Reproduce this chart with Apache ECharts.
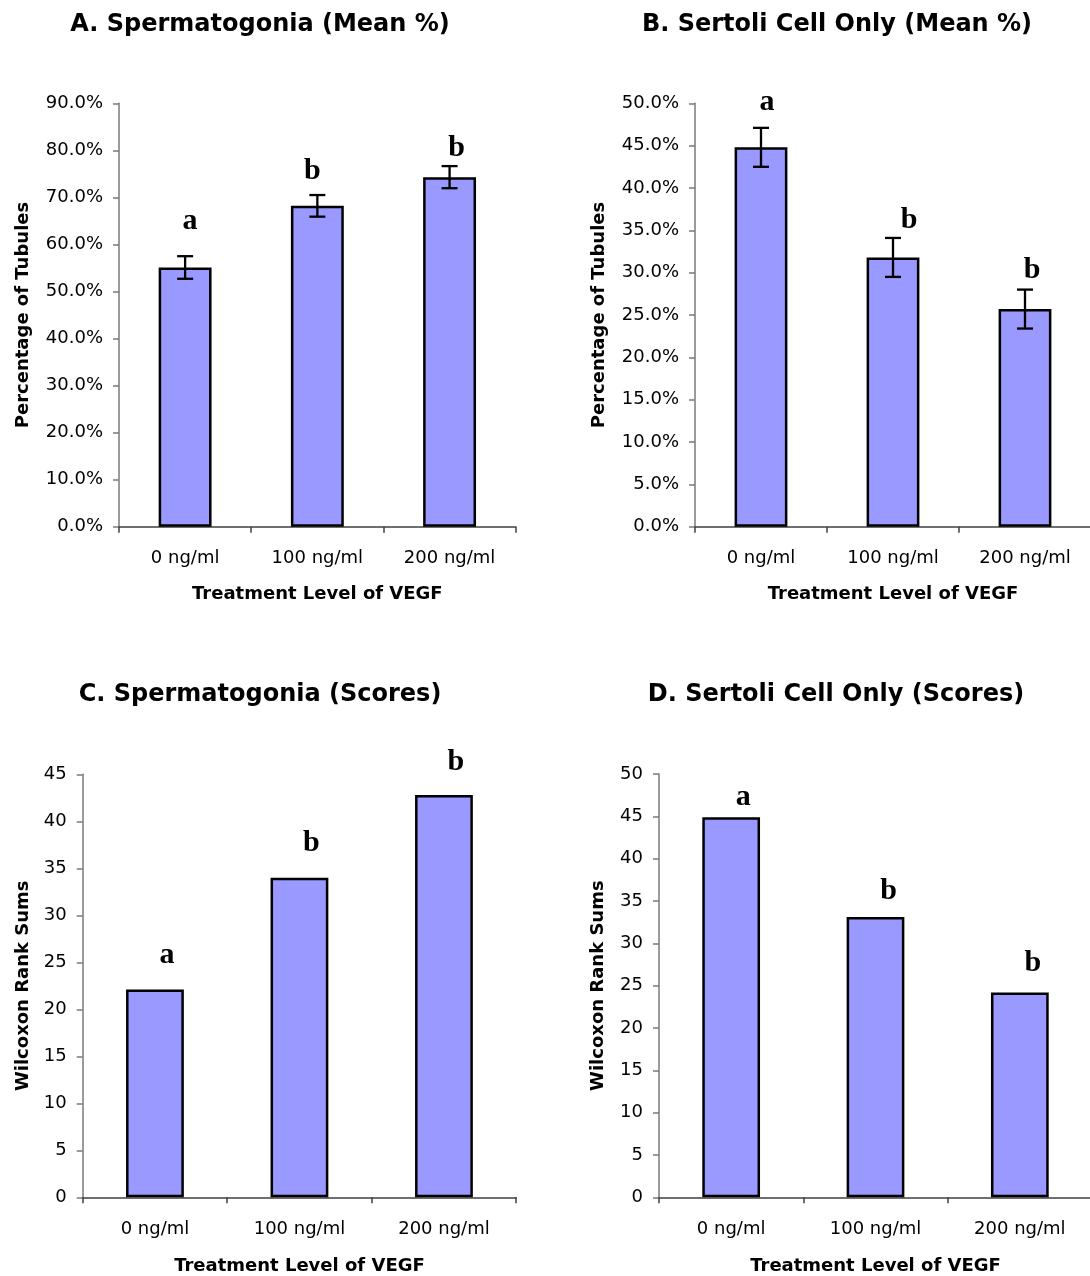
<!DOCTYPE html>
<html>
<head>
<meta charset="utf-8">
<script src="https://cdn.jsdelivr.net/npm/echarts@6/dist/echarts.min.js"></script>
<style>
html,body{margin:0;padding:0;background:#fff;}
#chart{width:1090px;height:1276px;}
</style>
</head>
<body>
<div id="chart"></div>
<script>
// ---- data ----
const categories = ['0 ng/ml', '100 ng/ml', '200 ng/ml'];

const spermMean = [55.1, 68.2, 74.3];        // A: mean %
const spermMeanErr = [2.4, 2.3, 2.35];
const spermMeanLetters = ['a', 'b', 'b'];
const spermMeanLetterPos = [64.9, 75.6, 80.4];

const sertoliMean = [44.8, 31.8, 25.7];      // B: mean %
const sertoliMeanErr = [2.3, 2.3, 2.3];
const sertoliMeanLetters = ['a', 'b', 'b'];
const sertoliMeanLetterPos = [50.1, 36.2, 30.3];

const spermScores = [22.1, 34.0, 42.8];      // C: Wilcoxon rank sums
const spermScoreLetters = ['a', 'b', 'b'];
const spermScoreLetterPos = [25.7, 37.7, 46.3];

const sertoliScores = [44.9, 33.1, 24.2];    // D: Wilcoxon rank sums
const sertoliScoreLetters = ['a', 'b', 'b'];
const sertoliScoreLetterPos = [47.3, 36.2, 27.7];

const panelTitles = [
  'A. Spermatogonia (Mean %)',
  'B. Sertoli Cell Only (Mean %)',
  'C. Spermatogonia (Scores)',
  'D. Sertoli Cell Only (Scores)'
];
const xName = 'Treatment Level of VEGF';
const yNamePct = 'Percentage of Tubules';
const yNameScore = 'Wilcoxon Rank Sums';

// ---- styling ----
const SANS = 'DejaVu Sans';
const SERIF = 'Liberation Serif';
const BAR_COLOR = '#9999FF';
// horizontal nudges (px) of the significance letters, per panel
const letterNudge = [[5, -5, 7], [6, 16, 7], [12, 12, 12], [12, 13, 13]];

const chart = echarts.init(document.getElementById('chart'), null, {renderer: 'canvas'});

const grids = [
  {left: 119, top: 103.3, width: 396.7, height: 423.4},
  {left: 695, top: 103.3, width: 396, height: 423.4},
  {left: 82.7, top: 774.3, width: 433.5, height: 423},
  {left: 659, top: 774, width: 433, height: 423.3}
].map(g => Object.assign({outerBoundsMode: 'none', containLabel: false}, g));

function xAxis(gi, gap) {
  return {
    type: 'category', gridIndex: gi, data: categories,
    boundaryGap: true,
    axisLine: {show: true, lineStyle: {color: '#404040', width: 1.5}},
    axisTick: {show: true, inside: false, length: 6, alignWithLabel: false, lineStyle: {color: '#404040', width: 1.5}},
    axisLabel: {color: '#000', fontFamily: SANS, fontSize: 18, margin: 23, interval: 0},
    splitLine: {show: false},
    name: xName, nameLocation: 'middle', nameGap: gap,
    nameTextStyle: {color: '#000', fontFamily: SANS, fontWeight: 'bold', fontSize: 18}
  };
}
function yAxis(gi, max, interval, fmt, name, gap) {
  return {
    type: 'value', gridIndex: gi, min: 0, max: max, interval: interval,
    axisLine: {show: true, lineStyle: {color: '#7a7a7a', width: 1.5}},
    axisTick: {show: true, inside: false, length: 6, lineStyle: {color: '#7a7a7a', width: 1.5}},
    axisLabel: {color: '#000', fontFamily: SANS, fontSize: 18, margin: 16, formatter: fmt},
    splitLine: {show: false},
    name: name, nameLocation: 'middle', nameGap: gap, nameRotate: 90,
    nameTextStyle: {color: '#000', fontFamily: SANS, fontWeight: 'bold', fontSize: 18}
  };
}
const pctFmt = v => v.toFixed(1) + '%';
const intFmt = v => String(v);

function barSeries(idx, values) {
  return {
    type: 'bar', xAxisIndex: idx, yAxisIndex: idx, data: values,
    barWidth: '40%',
    itemStyle: {color: BAR_COLOR, borderColor: '#000', borderWidth: 2.5},
    silent: true, animation: false
  };
}
function errSeries(idx, values, errs) {
  return {
    type: 'custom', xAxisIndex: idx, yAxisIndex: idx,
    data: values.map((v, i) => [i, v, errs[i]]),
    z: 5, silent: true, animation: false,
    renderItem: function (params, api) {
      const i = api.value(0), v = api.value(1), e = api.value(2);
      const top = api.coord([i, v + e]);
      const bot = api.coord([i, v - e]);
      const hw = 8;
      const st = {stroke: '#000', lineWidth: 2.3};
      return {
        type: 'group',
        children: [
          {type: 'line', shape: {x1: top[0], y1: top[1], x2: bot[0], y2: bot[1]}, style: st},
          {type: 'line', shape: {x1: top[0] - hw, y1: top[1], x2: top[0] + hw, y2: top[1]}, style: st},
          {type: 'line', shape: {x1: bot[0] - hw, y1: bot[1], x2: bot[0] + hw, y2: bot[1]}, style: st}
        ]
      };
    }
  };
}
function letterSeries(idx, pos, letters) {
  return {
    type: 'scatter', xAxisIndex: idx, yAxisIndex: idx,
    data: pos.map((p, i) => ({
      value: [i, p],
      label: {offset: [letterNudge[idx][i], 0]}
    })),
    symbolSize: 0, clip: false, silent: true, animation: false, z: 6,
    label: {
      show: true, position: 'inside',
      formatter: p => letters[p.dataIndex],
      fontFamily: SERIF, fontWeight: 900, fontSize: 30, color: '#000',
      textBorderWidth: 0, opacity: 1
    }
  };
}

const titleCenters = [[260, 25], [837, 25], [260, 695], [836, 695]];

const option = {
  backgroundColor: '#fff',
  animation: false,
  grid: grids,
  xAxis: [xAxis(0, 59), xAxis(1, 59), xAxis(2, 60), xAxis(3, 60)],
  yAxis: [
    yAxis(0, 90, 10, pctFmt, yNamePct, 87),
    yAxis(1, 50, 5, pctFmt, yNamePct, 87),
    yAxis(2, 45, 5, intFmt, yNameScore, 50),
    yAxis(3, 50, 5, intFmt, yNameScore, 52)
  ],
  series: [
    barSeries(0, spermMean), errSeries(0, spermMean, spermMeanErr), letterSeries(0, spermMeanLetterPos, spermMeanLetters),
    barSeries(1, sertoliMean), errSeries(1, sertoliMean, sertoliMeanErr), letterSeries(1, sertoliMeanLetterPos, sertoliMeanLetters),
    barSeries(2, spermScores), letterSeries(2, spermScoreLetterPos, spermScoreLetters),
    barSeries(3, sertoliScores), letterSeries(3, sertoliScoreLetterPos, sertoliScoreLetters)
  ],
  graphic: panelTitles.map((t, i) => ({
    type: 'text', x: titleCenters[i][0], y: titleCenters[i][1], silent: true,
    style: {text: t, fill: '#000', font: 'bold 24px "DejaVu Sans"', align: 'center', verticalAlign: 'middle'}
  }))
};
chart.setOption(option);
</script>
</body>
</html>
